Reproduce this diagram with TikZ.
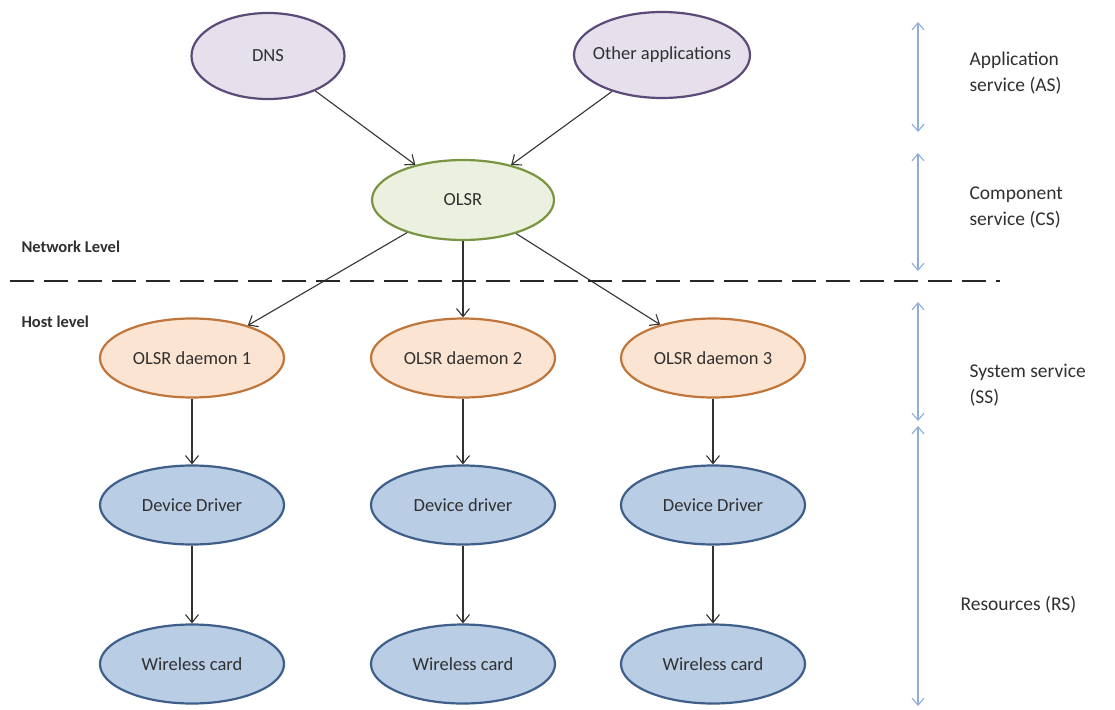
\documentclass[tikz,border=0pt]{standalone}
\usepackage{fontspec}
\setmainfont{Carlito}
\usetikzlibrary{shapes.geometric,arrows.meta}
\definecolor{purpfill}{HTML}{E5E0EC}
\definecolor{purpdraw}{HTML}{5C4A78}
\definecolor{grnfill}{HTML}{EBF1DE}
\definecolor{grndraw}{HTML}{7A9540}
\definecolor{orfill}{HTML}{FCE4D2}
\definecolor{ordraw}{HTML}{C0763A}
\definecolor{bluefill}{HTML}{B9CDE5}
\definecolor{bluedraw}{HTML}{3F5F8A}
\definecolor{sidearrow}{HTML}{8DAED6}
\definecolor{txt}{HTML}{303030}
\tikzset{
  ell/.style={ellipse, minimum width=184pt, minimum height=79pt, line width=2.2pt, inner sep=0pt, text=txt, font=\fontsize{18.5}{20}\selectfont},
  appn/.style={ell, fill=purpfill, draw=purpdraw},
  compn/.style={ell, fill=grnfill, draw=grndraw},
  sysn/.style={ell, fill=orfill, draw=ordraw},
  resn/.style={ell, fill=bluefill, draw=bluedraw},
  conn/.style={-{Straight Barb[length=8pt,width=13pt]}, line width=1.1pt, draw=black!80},
  side/.style={{Straight Barb[length=7pt,width=12pt]}-{Straight Barb[length=7pt,width=12pt]}, line width=1.1pt, draw=sidearrow},
  lbl/.style={anchor=west, align=left, font=\fontsize{19.5}{26}\selectfont, text=txt},
  lvl/.style={anchor=west, font=\bfseries\fontsize{16.5}{20}\selectfont, text=txt}
}
\begin{document}
\begin{tikzpicture}[x=1pt,y=-1pt]
\useasboundingbox (0,0) rectangle (1115,709);
\fill[white] (0,0) rectangle (1115,709);
% top level
\node[appn, minimum width=153pt, minimum height=86pt] (dns) at (268,56) {DNS};
\node[appn, minimum width=176pt, minimum height=86pt, inner xsep=-16pt] (oth) at (662,55) {Other applications};
\node[compn, minimum width=182pt, minimum height=80pt] (olsr) at (463,200) {OLSR};
% daemons
\node[sysn] (d1) at (192,358) {OLSR daemon 1};
\node[sysn] (d2) at (463,358) {OLSR daemon 2};
\node[sysn] (d3) at (713,358) {OLSR daemon 3};
% drivers
\node[resn] (v1) at (192,505) {Device Driver};
\node[resn] (v2) at (463,505) {Device driver};
\node[resn] (v3) at (713,505) {Device Driver};
% cards
\node[resn] (w1) at (192,664) {Wireless card};
\node[resn] (w2) at (463,664) {Wireless card};
\node[resn] (w3) at (713,664) {Wireless card};
% connectors
\draw[conn] (dns) -- (olsr);
\draw[conn] (oth) -- (olsr);
\draw[conn] (olsr) -- (d1);
\draw[conn] (olsr) -- (d2);
\draw[conn] (olsr) -- (d3);
\draw[conn] (d1) -- (v1);
\draw[conn] (d2) -- (v2);
\draw[conn] (d3) -- (v3);
\draw[conn] (v1) -- (w1);
\draw[conn] (v2) -- (w2);
\draw[conn] (v3) -- (w3);
% dashed separator
\coordinate (sepl) at (10,281);
\coordinate (sepr) at (1000,281);
\draw[line width=2.8pt, dash pattern=on 24pt off 10pt, black!85] (sepl) -- (sepr);
\node[lvl] (netlvl) at (18,247) {Network Level};
\node[lvl] (hostlvl) at (18,322) {Host level};
% side arrows
\coordinate (a1) at (918,22);  \coordinate (a2) at (918,132);
\coordinate (c1) at (918,153); \coordinate (c2) at (918,271);
\coordinate (s1) at (918,302); \coordinate (s2) at (918,421);
\coordinate (r1) at (918,426); \coordinate (r2) at (918,706);
\draw[side] (a1) -- (a2);
\draw[side] (c1) -- (c2);
\draw[side] (s1) -- (s2);
\draw[side] (r1) -- (r2);
\node[lbl] (aslbl) at (966,73) {Application\\service (AS)};
\node[lbl] (cslbl) at (966,208) {Component\\service (CS)};
\node[lbl] (sslbl) at (966,385) {System service\\(SS)};
\node[lbl] (rslbl) at (957,605) {Resources (RS)};
\end{tikzpicture}
\end{document}
